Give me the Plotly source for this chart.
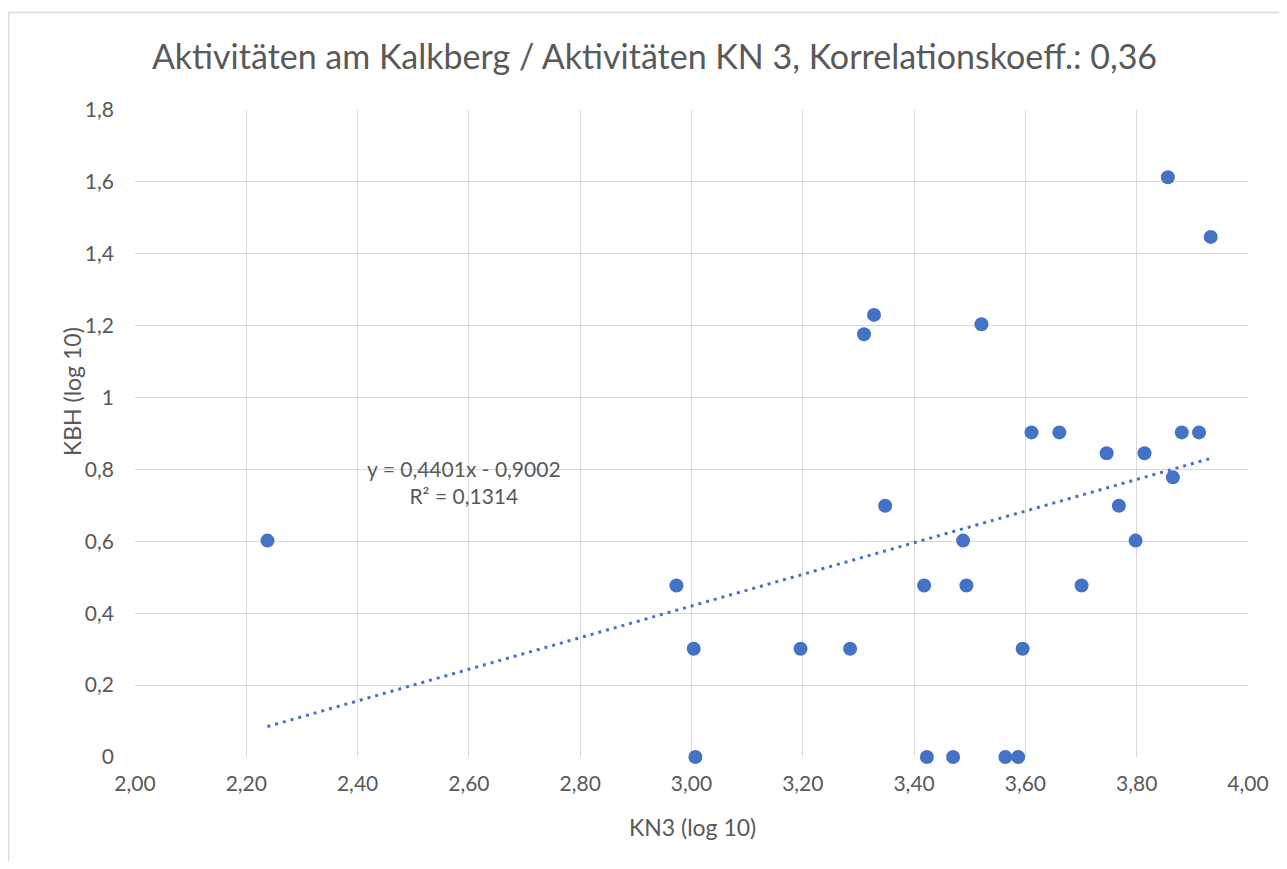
import plotly.graph_objects as go

# Data
kn3_log = [2.238, 2.973, 3.004, 3.007, 3.196, 3.285, 3.310, 3.328, 3.348, 3.418,
           3.423, 3.470, 3.488, 3.494, 3.521, 3.564, 3.587, 3.595, 3.611, 3.661,
           3.701, 3.746, 3.768, 3.798, 3.814, 3.856, 3.865, 3.881, 3.912, 3.933]
kbh_log = [0.602, 0.477, 0.301, 0.0, 0.301, 0.301, 1.176, 1.230, 0.699, 0.477,
           0.0, 0.0, 0.602, 0.477, 1.204, 0.0, 0.0, 0.301, 0.903, 0.903,
           0.477, 0.845, 0.699, 0.602, 0.845, 1.613, 0.778, 0.903, 0.903, 1.447]
slope = 0.4401
intercept = -0.9002
r_squared = 0.1314

x_ticks = [2.0, 2.2, 2.4, 2.6, 2.8, 3.0, 3.2, 3.4, 3.6, 3.8, 4.0]
y_ticks = [0, 0.2, 0.4, 0.6, 0.8, 1.0, 1.2, 1.4, 1.6, 1.8]
y_tick_text = ["0", "0,2", "0,4", "0,6", "0,8", "1", "1,2", "1,4", "1,6", "1,8"]
x_tick_text = [f"{v:.2f}".replace(".", ",") for v in x_ticks]

BLUE = "#4472C4"
TXT = "#595959"
GRID = "#d9d9d9"
FONT = "Lato, Open Sans, sans-serif"

fig = go.Figure()

x0, x1 = min(kn3_log), max(kn3_log)
fig.add_trace(go.Scatter(
    x=[x0, x1], y=[slope * x0 + intercept, slope * x1 + intercept],
    mode="lines", line=dict(color=BLUE, width=3, dash="3px,5px"),
    hoverinfo="skip", showlegend=False))

fig.add_trace(go.Scatter(
    x=kn3_log, y=kbh_log, mode="markers",
    marker=dict(color=BLUE, size=14, line=dict(width=0)),
    showlegend=False, cliponaxis=False))

fmt = lambda v: f"{abs(v):.4f}".replace(".", ",")
eq_text = f"y = {fmt(slope)}x - {fmt(intercept)}<br>R² = {fmt(r_squared)}"
fig.add_annotation(x=2.591, y=0.765, xref="x", yref="y", text=eq_text,
                   showarrow=False, font=dict(size=21, color=TXT, family=FONT),
                   align="center")

# Page body adds an 8px offset; figure coordinates below are screen - 8
W, H = 1271, 853
L, R, T, B = 127, 31, 102, 104
pw, ph = W - L - R, H - T - B

# axis titles placed like the original
fig.add_annotation(text="KN3 (log 10)", xref="paper", yref="paper",
                   x=(684 - L) / pw, y=(H - B - 819) / ph, xanchor="center", yanchor="middle",
                   showarrow=False, font=dict(size=23, color=TXT, family=FONT))
fig.add_annotation(text="KBH (log 10)", xref="paper", yref="paper", textangle=-90,
                   x=(64 - L) / pw, y=(H - B - 384) / ph, xanchor="center", yanchor="middle",
                   showarrow=False, font=dict(size=23, color=TXT, family=FONT))

# outer chart border (top and left lines visible)
bx = (0.5 - L) / pw
by = (H - B - 4.5) / ph
fig.add_shape(type="line", xref="paper", yref="paper", x0=bx, x1=(W - L + 10) / pw,
              y0=by, y1=by, line=dict(color=GRID, width=1.5))
fig.add_shape(type="line", xref="paper", yref="paper", x0=bx, x1=bx,
              y0=by, y1=-(B + 10) / ph, line=dict(color=GRID, width=1.5))

fig.update_layout(
    width=W, height=H,
    margin=dict(l=L, r=R, t=T, b=B, autoexpand=False),
    paper_bgcolor="white", plot_bgcolor="white",
    font=dict(family=FONT, color=TXT),
    title=dict(text="Aktivitäten am Kalkberg / Aktivitäten KN 3, Korrelationskoeff.: 0,36",
               xref="container", x=646.5 / W, xanchor="center",
               yref="container", y=1 - 49 / H, yanchor="middle",
               font=dict(size=34, color=TXT, family=FONT)),
    xaxis=dict(range=[2.0, 4.0], tickvals=x_ticks, ticktext=x_tick_text,
               showgrid=True, gridcolor=GRID, gridwidth=1, zeroline=False,
               showline=False, ticks="", ticklabelstandoff=12,
               tickfont=dict(size=21, color=TXT)),
    yaxis=dict(range=[0, 1.8], tickvals=y_ticks, ticktext=y_tick_text,
               showgrid=True, gridcolor=GRID, gridwidth=1, zeroline=False,
               showline=False, ticks="", ticklabelstandoff=20,
               tickfont=dict(size=21, color=TXT)),
)

fig.write_html("out.html")
